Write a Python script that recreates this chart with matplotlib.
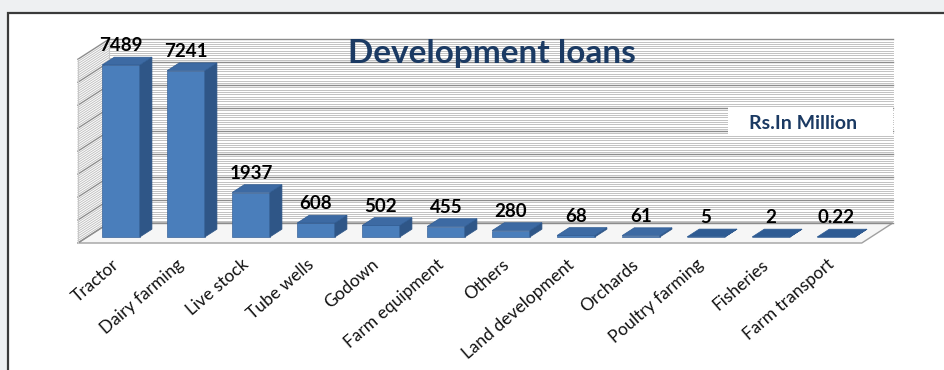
import matplotlib.pyplot as plt
from matplotlib.patches import Polygon, Rectangle
import numpy as np

plt.rcParams['font.family'] = ['Lato', 'DejaVu Sans']

categories = ['Tractor', 'Dairy farming', 'Live stock', 'Tube wells', 'Godown',
              'Farm equipment', 'Others', 'Land development', 'Orchards',
              'Poultry farming', 'Fisheries', 'Farm transport']
loans = [7489, 7241, 1937, 608, 502, 455, 280, 68, 61, 5, 2, 0.22]
value_labels = ['7489', '7241', '1937', '608', '502', '455', '280', '68', '61', '5', '2', '0.22']
title = 'Development loans'
unit_note = 'Rs.In Million'

W, H = 944, 370
fig = plt.figure(figsize=(W / 100, H / 100), dpi=100)
fig.patch.set_facecolor('#eef0f2')
fig.patches.append(Rectangle((8 / W, -0.1), 1.2, (H - 13) / H + 0.1, transform=fig.transFigure,
                             facecolor='white', edgecolor='#3a3a3a', lw=1.6, zorder=-5))

# axes in pixel-matched placement: category i at x px 121 + 65 i, value 0 at y px 237
px_per_cat = 65.0
val_per_px = 7489 / 172.0
ax_l, ax_r, ax_t, ax_b = 70, 900, 30, 255
ax = fig.add_axes([ax_l / W, (H - ax_b) / H, (ax_r - ax_l) / W, (ax_b - ax_t) / H])
ax.set_xlim((ax_l - 121) / px_per_cat, (ax_r - 121) / px_per_cat)
ax.set_ylim(-(ax_b - 237) * val_per_px, (237 - ax_t) * val_per_px)
ax.axis('off')

# depth projection
DX = 31 / px_per_cat
DY = 20 * val_per_px
D0, D1 = 0.30, 0.69


def proj(x, y, d):
    return (x + (d - D0) * DX, y + (d - D0) * DY)


ymax = 8000
xa, xb = -0.52, 11.54

# floor
floor = [proj(xa, 0, 0), proj(xb, 0, 0), proj(xb, 0, 1), proj(xa, 0, 1)]
ax.add_patch(Polygon(floor, closed=True, facecolor='#f6f6f6', edgecolor='#a0a0a0', lw=1.0, zorder=1))

# back wall and side wall stripes
for v in np.arange(0, ymax + 1, 100):
    major = (v % 1000 == 0)
    col = '#8c8c8c' if major else '#c2c2c2'
    lw = 1.0 if major else 0.7
    p1, p2 = proj(xa, v, 1), proj(xb, v, 1)
    ax.plot([p1[0], p2[0]], [p1[1], p2[1]], color=col, lw=lw, zorder=1)
    q1 = proj(xa, v, 0)
    ax.plot([q1[0], p1[0]], [q1[1], p1[1]], color=col, lw=lw, zorder=1)
for d in (0, 1):
    a, b = proj(xa, 0, d), proj(xa, ymax, d)
    ax.plot([a[0], b[0]], [a[1], b[1]], color='#c8c8c8', lw=0.8, zorder=1)

# bars
bw = 0.58
front_c, side_c, top_c = '#4a7ebb', '#2f5687', '#3d6aa3'
for i, v in enumerate(loans):
    x0, x1 = i - bw / 2, i + bw / 2
    ax.bar(i, v, width=bw, bottom=0, color=front_c, edgecolor='#3a6499', lw=0.5, zorder=3)
    side = [proj(x1, 0, D0), proj(x1, 0, D1), proj(x1, v, D1), proj(x1, v, D0)]
    ax.add_patch(Polygon(side, closed=True, facecolor=side_c, edgecolor=side_c, lw=0.5, zorder=3))
    top = [proj(x0, v, D0), proj(x1, v, D0), proj(x1, v, D1), proj(x0, v, D1)]
    ax.add_patch(Polygon(top, closed=True, facecolor=top_c if v > 50 else '#2e5b93',
                         edgecolor='#2e5b93', lw=0.5, zorder=4))
    ty = proj(i, v, D1)[1]
    ax.annotate(value_labels[i], (i, ty), xytext=(0, 2), textcoords='offset points',
                ha='center', va='bottom', fontsize=13.5, fontweight='bold', color='#000000', zorder=6)
    ax.annotate(categories[i], (i, 0), xytext=(-7, -14), textcoords='offset points',
                ha='right', va='top', rotation=41, rotation_mode='anchor',
                fontsize=12.5, color='#111111', annotation_clip=False)

# title and unit note
fig.text(492 / W, (H - 53) / H, title, ha='center', va='center', fontsize=24,
         fontweight='bold', color='#1b3a63')
fig.patches.append(Rectangle((728 / W, (H - 135) / H), 165 / W, 28 / H, transform=fig.transFigure,
                             facecolor='white', edgecolor='none', zorder=5))
fig.text(803 / W, (H - 123) / H, unit_note, ha='center', va='center', fontsize=14,
         fontweight='bold', color='#1b3a63', zorder=6)

fig.savefig('out.png', dpi=100, facecolor=fig.get_facecolor())
